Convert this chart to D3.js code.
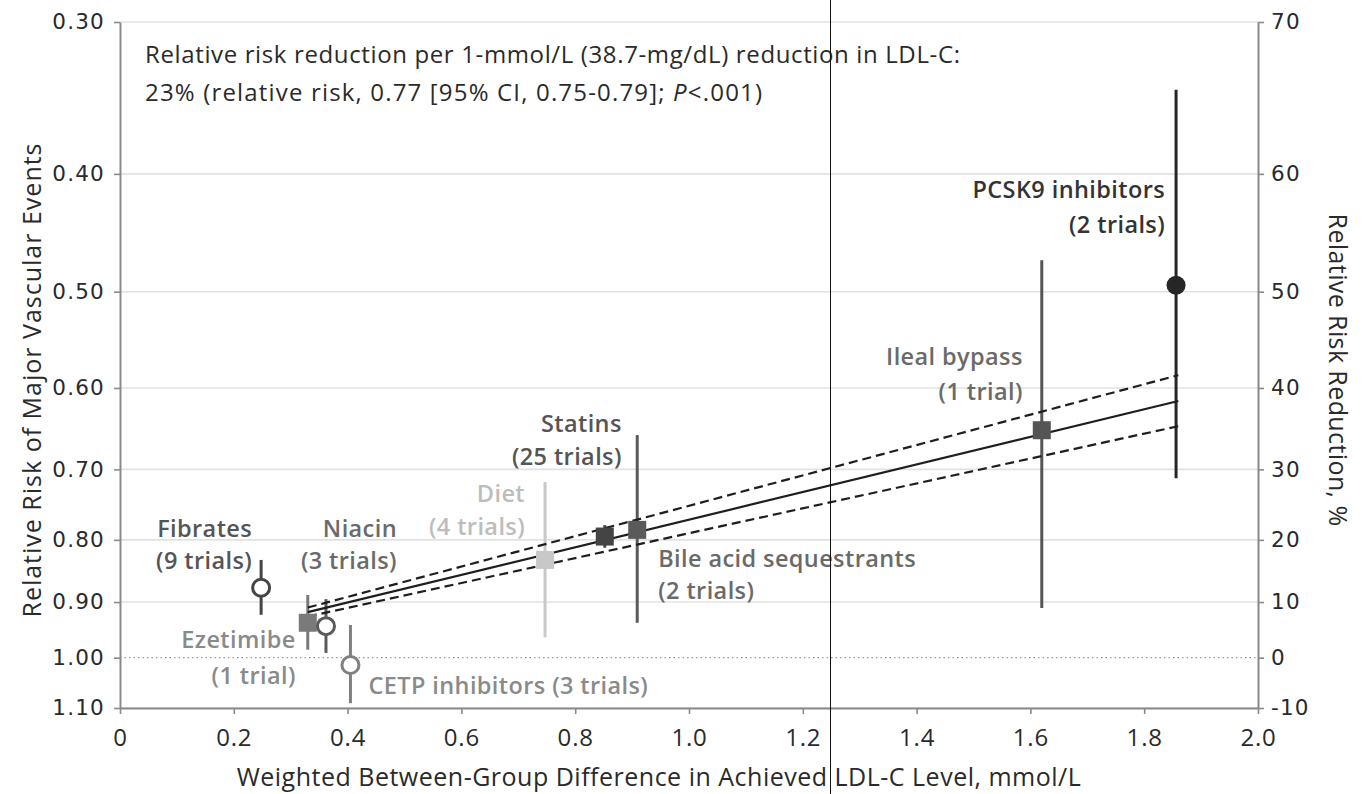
<!DOCTYPE html>
<html>
<head>
<meta charset="utf-8">
<script src="https://cdn.jsdelivr.net/npm/d3@7"></script>
<style>
  html, body { margin: 0; padding: 0; background: #fff; }
  svg { display: block; font-family: "Open Sans", sans-serif; }
</style>
</head>
<body>
<script>
// ---------- data ----------
const drugClasses = ["Fibrates", "Ezetimibe", "Niacin", "CETP inhibitors", "Diet", "Statins", "Bile acid sequestrants", "Ileal bypass", "PCSK9 inhibitors"];
const trialCounts = [9, 1, 3, 3, 4, 25, 2, 1, 2];
const ldlDifference = [0.248, 0.33, 0.362, 0.405, 0.747, 0.852, 0.909, 1.62, 1.856];
const relativeRisk = [0.876, 0.936, 0.942, 1.014, 0.831, 0.795, 0.785, 0.650, 0.494];
const ciLower = [0.831, 0.888, 0.895, 0.940, 0.717, 0.778, 0.656, 0.471, 0.341];
const ciUpper = [0.922, 0.985, 0.991, 1.090, 0.962, 0.812, 0.936, 0.910, 0.712];

const regressionRR = 0.77;          // per 1 mmol/L
const regressionCI = [0.75, 0.79];
const regressionRange = [0.33, 1.86];

const xTicks = [0, 0.2, 0.4, 0.6, 0.8, 1.0, 1.2, 1.4, 1.6, 1.8, 2.0];
const yTicks = [0.30, 0.40, 0.50, 0.60, 0.70, 0.80, 0.90, 1.00, 1.10];
const rrrTicks = [70, 60, 50, 40, 30, 20, 10, 0, -10];

const annotationLine1 = "Relative risk reduction per 1-mmol/L (38.7-mg/dL) reduction in LDL-C:";
const xTitle = "Weighted Between-Group Difference in Achieved LDL-C Level, mmol/L";
const yTitle = "Relative Risk of Major Vascular Events";
const y2Title = "Relative Risk Reduction, %";

// ---------- styles (per class) ----------
const styles = {
  "Fibrates":               {shape: "open",   color: "#454545", text: "#555555"},
  "Ezetimibe":              {shape: "square", color: "#7a7a7a", text: "#8a8a8a"},
  "Niacin":                 {shape: "open",   color: "#5a5a5a", text: "#6a6a6a"},
  "CETP inhibitors":        {shape: "open",   color: "#808080", text: "#8a8a8a"},
  "Diet":                   {shape: "square", color: "#c8c8c8", text: "#bdbdbd"},
  "Statins":                {shape: "square", color: "#444444", text: "#555555"},
  "Bile acid sequestrants": {shape: "square", color: "#5a5a5a", text: "#6a6a6a"},
  "Ileal bypass":           {shape: "square", color: "#555555", text: "#6a6a6a"},
  "PCSK9 inhibitors":       {shape: "filled", color: "#262626", text: "#333333"}
};
// label layout: anchor, dx, dy of first line baseline relative to marker, line gap
const labelLayout = {
  "Fibrates":               {anchor: "end",   dx: -9,  dy: -51, gap: 32, lines: 2},
  "Ezetimibe":              {anchor: "end",   dx: -12, dy: 25,  gap: 36, lines: 2},
  "Niacin":                 {anchor: "end",   dx: 71,  dy: -89, gap: 32, lines: 2},
  "CETP inhibitors":        {anchor: "start", dx: 18,  dy: 29,  gap: 0,  lines: 1},
  "Diet":                   {anchor: "end",   dx: -20, dy: -58, gap: 33, lines: 2},
  "Statins":                {anchor: "end",   dx: 17,  dy: -105, gap: 33, lines: 2},
  "Bile acid sequestrants": {anchor: "start", dx: 21,  dy: 37,  gap: 32, lines: 2},
  "Ileal bypass":           {anchor: "end",   dx: -19, dy: -65, gap: 35, lines: 2},
  "PCSK9 inhibitors":       {anchor: "end",   dx: -11, dy: -87, gap: 35, lines: 2}
};

// ---------- chart ----------
const W = 1370, H = 794;
const svg = d3.select("body").append("svg").attr("width", W).attr("height", H);

const x = d3.scaleLinear().domain([0, 2]).range([120, 1258]);
const y = d3.scaleLog().domain([0.3, 1.1]).range([22, 708]);

// gridlines
svg.append("g").selectAll("line").data(yTicks).join("line")
  .attr("x1", x(0)).attr("x2", x(2))
  .attr("y1", d => y(d)).attr("y2", d => y(d))
  .attr("stroke", d => d === 1 ? "#9a9a9a" : "#e2e2e2")
  .attr("stroke-width", d => d === 1 ? 1.2 : 1.6)
  .attr("stroke-dasharray", d => d === 1 ? "1.5,3" : null);

// axes
const axisColor = "#8a8a8a";
function styleAxis(g) {
  g.select(".domain").attr("stroke", axisColor).attr("stroke-width", 2);
  g.selectAll(".tick line").attr("stroke", axisColor).attr("stroke-width", 1.6);
  g.selectAll(".tick text").attr("fill", "#2a2a2a");
}
const gx = svg.append("g").attr("transform", `translate(0,${y(1.1)})`)
  .call(d3.axisBottom(x).tickValues(xTicks).tickSize(6).tickSizeOuter(0)
    .tickFormat(d => d === 0 ? "0" : d3.format(".1f")(d)))
  .call(styleAxis);
gx.attr("font-family", null);
gx.selectAll(".tick text").style("font-family", "'Open Sans', sans-serif").attr("font-size", 24)
  .attr("letter-spacing", 0.8).attr("dy", "1.2em");

const gy = svg.append("g").attr("transform", `translate(${x(0)},0)`)
  .call(d3.axisLeft(y).tickValues(yTicks).tickSize(6).tickSizeOuter(0).tickFormat(d3.format(".2f")))
  .call(styleAxis);
gy.selectAll(".tick text").style("font-family", "'DejaVu Sans', sans-serif").attr("font-size", 21.5)
  .attr("letter-spacing", 1.2).attr("x", -15);

const gy2 = svg.append("g").attr("transform", `translate(${x(2)},0)`)
  .call(d3.axisRight(y).tickValues(rrrTicks.map(v => 1 - v / 100)).tickSize(6).tickSizeOuter(0)
    .tickFormat(d => String(Math.round((1 - d) * 100))))
  .call(styleAxis);
gy2.selectAll(".tick text").style("font-family", "'DejaVu Sans', sans-serif").attr("font-size", 21.5)
  .attr("letter-spacing", 1.2).attr("x", 13);

// axis titles
svg.append("text").attr("x", 659).attr("y", 786).attr("text-anchor", "middle")
  .attr("font-size", 25).attr("letter-spacing", 0.5).attr("fill", "#2a2a2a").text(xTitle);
svg.append("text").attr("transform", "translate(41,380) rotate(-90)").attr("text-anchor", "middle")
  .attr("font-size", 25).attr("letter-spacing", 1).attr("fill", "#2a2a2a").text(yTitle);
svg.append("text").attr("transform", "translate(1329,370) rotate(90)").attr("text-anchor", "middle")
  .attr("font-size", 25).attr("letter-spacing", 0.4).attr("fill", "#2a2a2a").text(y2Title);

// annotation
svg.append("text").attr("x", 145).attr("y", 63).attr("font-size", 24).attr("fill", "#2a2a2a")
  .attr("textLength", 815).attr("lengthAdjust", "spacing")
  .text(annotationLine1);
const a2 = svg.append("text").attr("x", 145).attr("y", 101).attr("font-size", 24).attr("fill", "#2a2a2a")
  .attr("textLength", 617).attr("lengthAdjust", "spacing");
a2.append("tspan").text(`${Math.round((1 - regressionRR) * 100)}% (relative risk, ${regressionRR.toFixed(2)} [95% CI, ${regressionCI[0].toFixed(2)}-${regressionCI[1].toFixed(2)}]; `);
a2.append("tspan").attr("font-style", "italic").text("P");
a2.append("tspan").text("<.001)");

const pts = drugClasses.map((c, i) => ({
  name: c, trials: trialCounts[i], x: ldlDifference[i], rr: relativeRisk[i],
  lo: ciLower[i], hi: ciUpper[i], st: styles[c], lay: labelLayout[c]
}));

// CI bars
svg.append("g").selectAll("line").data(pts).join("line")
  .attr("x1", d => x(d.x)).attr("x2", d => x(d.x))
  .attr("y1", d => y(d.lo)).attr("y2", d => y(d.hi))
  .attr("stroke", d => d.st.color).attr("stroke-width", 3);

// regression lines
const regGen = d3.line().x(d => x(d[0])).y(d => y(d[1]));
[[regressionRR, null], [regressionCI[0], "9,5"], [regressionCI[1], "9,5"]].forEach(([b, dash]) => {
  svg.append("path")
    .attr("d", regGen(regressionRange.map(v => [v, Math.pow(b, v)])))
    .attr("fill", "none").attr("stroke", "#1e1e1e").attr("stroke-width", 2.2)
    .attr("stroke-dasharray", dash);
});

// markers
const mg = svg.append("g");
pts.forEach(d => {
  const cx = x(d.x), cy = y(d.rr);
  if (d.st.shape === "square") {
    mg.append("rect").attr("x", cx - 9).attr("y", cy - 9).attr("width", 18).attr("height", 18)
      .attr("fill", d.st.color);
  } else if (d.st.shape === "open") {
    mg.append("circle").attr("cx", cx).attr("cy", cy).attr("r", 8.5)
      .attr("fill", "#fff").attr("stroke", d.st.color).attr("stroke-width", 3);
  } else {
    mg.append("circle").attr("cx", cx).attr("cy", cy).attr("r", 9.5).attr("fill", d.st.color);
  }
});

// labels
const lg = svg.append("g");
pts.forEach(d => {
  const cx = x(d.x), cy = y(d.rr), L = d.lay;
  const t = lg.append("text").attr("text-anchor", L.anchor).attr("font-size", 23.5)
    .attr("letter-spacing", 0.4).attr("font-weight", 600).attr("fill", d.st.text);
  const trialTxt = `(${d.trials} trial${d.trials === 1 ? "" : "s"})`;
  if (L.lines === 1) {
    t.attr("x", cx + L.dx).attr("y", cy + L.dy).text(`${d.name} ${trialTxt}`);
  } else {
    t.append("tspan").attr("x", cx + L.dx).attr("y", cy + L.dy).text(d.name);
    t.append("tspan").attr("x", cx + L.dx).attr("y", cy + L.dy + L.gap).text(trialTxt);
  }
});

// scan artifact vertical line present in the reference image
svg.append("line").attr("x1", 830.5).attr("x2", 830.5).attr("y1", 0).attr("y2", H)
  .attr("stroke", "#111").attr("stroke-width", 1);
</script>
</body>
</html>
